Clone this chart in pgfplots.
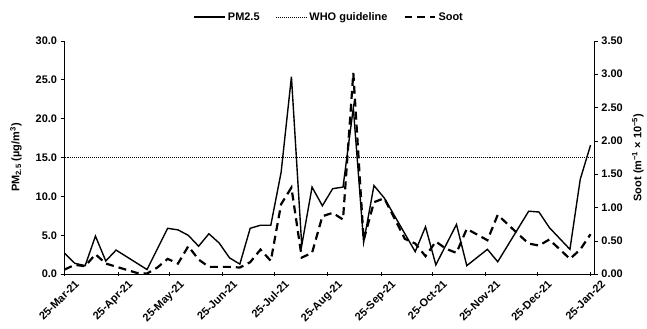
\documentclass[border=0pt]{standalone}
\usepackage{fontspec}
\setmainfont{Liberation Sans}
\usepackage{pgfplots}
\pgfplotsset{compat=1.18}
\usepackage{pgfplotstable}
\pgfplotsset{longleg/.style={legend image code/.code={\draw[##1] (0bp,0bp) -- (31bp,0bp);}}}

\pgfplotstableread{
day pm
0 2.7
6 1.4
12 1.1
18 4.9
24 1.7
30 3.1
48 0.6
60 5.9
66 5.7
72 5.0
78 3.6
84 5.2
90 4.0
96 2.1
102 1.3
108 5.9
114 6.3
120 6.3
126 13.1
132 25.4
138 3.7
144 11.2
150 8.8
156 11.0
162 11.2
168 21.4
174 4.1
180 11.4
186 9.8
204 2.9
210 6.1
216 1.2
228 6.4
234 1.1
246 3.2
252 1.6
270 8.1
276 8.0
282 6.0
294 3.2
300 12.2
306 16.6
}\pmdata

\pgfplotstableread{
day soot
0 0.07
6 0.14
12 0.12
18 0.30
24 0.16
42 0.02
48 0.01
54 0.10
60 0.23
66 0.16
72 0.42
78 0.22
84 0.11
90 0.11
96 0.11
102 0.10
108 0.18
114 0.37
120 0.20
126 1.05
132 1.30
138 0.25
144 0.32
150 0.87
156 0.92
162 0.82
168 3.02
174 0.51
180 1.08
186 1.14
198 0.53
204 0.46
210 0.27
216 0.49
222 0.38
228 0.32
234 0.68
246 0.51
252 0.89
264 0.60
270 0.46
276 0.43
282 0.52
294 0.23
300 0.37
306 0.60
}\sootdata

\begin{document}
\begin{tikzpicture}
\pgfplotsset{
  common/.style={
    width=531bp, height=234bp, scale only axis,
    xmin=0, xmax=308,
    ytick align=outside,
    xtick align=center,
    major tick length=4bp,
    tick style={black, line width=0.6bp},
    axis line style={black, line width=0.8bp, -},
    tick label style={font=\bfseries\fontsize{11bp}{13bp}\selectfont},
    label style={font=\bfseries\fontsize{11bp}{13bp}\selectfont},
    /pgf/number format/assume math mode=true,
  }
}
\begin{axis}[common, name=main, longleg,
  axis x line*=bottom, axis y line*=left,
  ymin=0, ymax=30, ytick={0,5,...,30},
  yticklabel style={/pgf/number format/.cd, fixed, fixed zerofill, precision=1},
  xtick={0,31,61,92,122,153,184,214,245,275,306},
  xticklabels={25-Mar-21,25-Apr-21,25-May-21,25-Jun-21,25-Jul-21,25-Aug-21,25-Sep-21,25-Oct-21,25-Nov-21,25-Dec-21,25-Jan-22},
  xticklabel style={rotate=45, anchor=north east, inner sep=0pt, xshift=5bp, yshift=-9bp},
  ylabel={PM\textsubscript{2.5} (µg/m\textsuperscript{3})},
  ylabel style={at={(axis description cs:-0.0917,0.5)}, anchor=center},
  legend style={at={(0.5,1.064)}, anchor=south, draw=none, fill=none,
    legend columns=3, font=\bfseries\fontsize{11bp}{13bp}\selectfont,
    /tikz/every even column/.append style={column sep=14bp}},
  legend cell align=left,
]
\addplot[black, line width=1.4bp] table[x=day, y=pm] {\pmdata};
\addlegendentry{PM2.5}
\addplot[black, line width=1bp, densely dotted] coordinates {(0,15) (308,15)};
\addlegendentry{WHO guideline}
\addlegendimage{black, line width=2.2bp, dash pattern=on 8bp off 5bp}
\addlegendentry{Soot}
\end{axis}
\begin{axis}[common,
  axis x line=none, axis y line*=right,
  ymin=0, ymax=3.5, ytick={0,0.5,...,3.5},
  yticklabel style={/pgf/number format/.cd, fixed, fixed zerofill, precision=2},
  ylabel={Soot (m\textsuperscript{−1} × 10\textsuperscript{−5})},
  ylabel style={at={(axis description cs:1.083,0.5)}, anchor=center},
]
\addplot[black, line width=2.2bp, dash pattern=on 8bp off 5bp] table[x=day, y=soot] {\sootdata};
\end{axis}
\path (main.south west) ++(-64.7bp,-54bp) rectangle ++(647bp,329bp);
\end{tikzpicture}
\end{document}
